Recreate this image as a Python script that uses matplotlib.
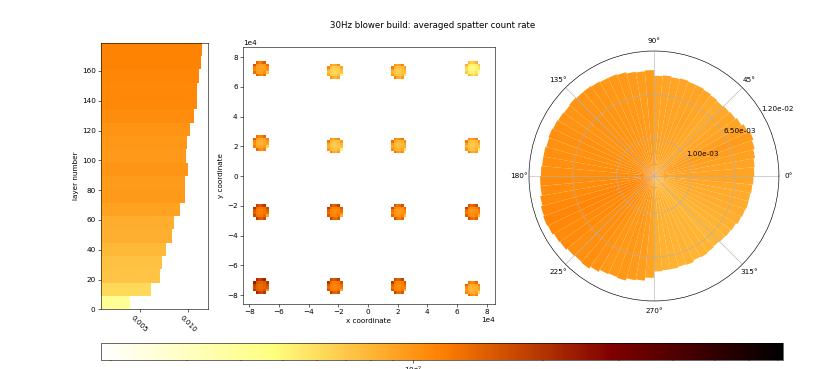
import numpy as np
import matplotlib
matplotlib.use("Agg")
import matplotlib.pyplot as plt
from matplotlib.colors import LogNorm
from matplotlib.cm import ScalarMappable

# valores
vmin, vmax = 1.89e-3, 7.18e-2
layer_edges = np.linspace(0, 179, 21)
layer_rate = [0.00405, 0.00622, 0.00709, 0.00730, 0.00774, 0.00831, 0.00852,
              0.00916, 0.00970, 0.00967, 0.01000, 0.00976, 0.00983, 0.01017,
              0.01061, 0.01088, 0.01095, 0.01112, 0.01135, 0.01142]

spot_x = [-7.2e4, -2.2e4, 2.2e4, 7.2e4,
          -7.2e4, -2.2e4, 2.2e4, 7.2e4,
          -7.2e4, -2.2e4, 2.2e4, 7.2e4,
          -7.2e4, -2.2e4, 2.2e4, 7.2e4]
spot_y = [7.35e4, 7.2e4, 7.2e4, 7.3e4,
          2.25e4, 2.2e4, 2.2e4, 2.2e4,
          -2.3e4, -2.3e4, -2.3e4, -2.4e4,
          -7.35e4, -7.25e4, -7.25e4, -7.45e4]
spot_rate = [0.0099, 0.0070, 0.0075, 0.0054,
             0.0092, 0.0075, 0.0083, 0.0077,
             0.0130, 0.0119, 0.0107, 0.0112,
             0.0150, 0.0125, 0.0119, 0.0089]
# textura de cada mancha (6x6 celdas)
spot_pattern = [[0.0, 1.5, 1.2, 1.1, 1.3, 0.0],
                [1.3, 1.0, 0.95, 0.95, 1.05, 0.7],
                [1.1, 0.95, 0.9, 0.9, 0.95, 1.0],
                [1.2, 0.95, 0.9, 0.9, 0.95, 1.1],
                [1.6, 1.05, 0.95, 0.95, 1.0, 1.3],
                [0.0, 1.4, 1.2, 1.3, 1.5, 0.0]]

theta_edges = np.linspace(0, 360, 73)
angle_rate = [0.0089, 0.0090, 0.0092, 0.0094, 0.0096, 0.0093, 0.0090, 0.0088, 0.0087,
              0.0086, 0.0087, 0.0088, 0.0089, 0.0089, 0.0090, 0.0089, 0.0090, 0.0089,
              0.0096, 0.0095, 0.0096, 0.0098, 0.0099, 0.0099, 0.0100, 0.0101, 0.0101,
              0.0102, 0.0101, 0.0102, 0.0103, 0.0104, 0.0103, 0.0104, 0.0104, 0.0105,
              0.0106, 0.0106, 0.0108, 0.0110, 0.0111, 0.0110, 0.0108, 0.0107, 0.0105,
              0.0104, 0.0105, 0.0102, 0.0099, 0.0098, 0.0099, 0.0096, 0.0095, 0.0091,
              0.0083, 0.0082, 0.0082, 0.0081, 0.0082, 0.0080, 0.0081, 0.0080, 0.0079,
              0.0080, 0.0081, 0.0082, 0.0084, 0.0085, 0.0086, 0.0086, 0.0087, 0.0088]
r_ticks = [0.001, 0.0065, 0.012]
r_low = -0.00367

cmap = plt.get_cmap("afmhot_r")
norm = LogNorm(vmin=vmin, vmax=vmax)

DPI = 52
fig = plt.figure(figsize=(830 / DPI, 369 / DPI), dpi=DPI)

# barras por capa
ax1 = fig.add_axes([0.1213, 0.1618, 0.1289, 0.7225])
ax1.barh(layer_edges[:-1], layer_rate, height=np.diff(layer_edges), align="edge",
         color=cmap(norm(layer_rate)))
ax1.set_xlim(0.001, 0.012)
ax1.set_ylim(0, 179)
ax1.set_xticks([0.005, 0.010])
ax1.set_xticklabels(["0.005", "0.010"], rotation=-45)
ax1.set_ylabel("layer number")

# mapa xy
ax2 = fig.add_axes([0.2924, 0.1762, 0.304, 0.6965])
cell = 1720.0
edges = np.arange(-86000, 86000 + cell, cell)
grid = np.zeros((len(edges) - 1, len(edges) - 1))
pat = np.array(spot_pattern)
for sx, sy, rate in zip(spot_x, spot_y, spot_rate):
    i = int((sx - edges[0]) // cell) - 3
    j = int((sy - edges[0]) // cell) - 3
    grid[j:j + 6, i:i + 6] = np.where(pat > 0, rate * pat, grid[j:j + 6, i:i + 6])
ax2.pcolormesh(edges, edges, np.ma.masked_equal(grid, 0), cmap=cmap, norm=norm)
ax2.set_xlim(-84500, 85600)
ax2.set_ylim(-86000, 86900)
ax2.set_xticks(np.arange(-8e4, 8.1e4, 2e4))
ax2.set_yticks(np.arange(-8e4, 8.1e4, 2e4))
ax2.ticklabel_format(style="sci", scilimits=(0, 0))
ax2.set_xlabel("x coordinate")
ax2.set_ylabel("y coordinate")

# polar
ax3 = fig.add_axes([0.6373, 0.1843, 0.3012, 0.6775], projection="polar")
th = np.deg2rad(theta_edges)
ax3.bar(th[:-1], np.array(angle_rate) - r_low, width=np.diff(th), bottom=r_low,
        align="edge", color=cmap(norm(angle_rate)))
ax3.set_ylim(r_low, 0.012)
ax3.set_yticks(r_ticks)
ax3.set_yticklabels(["%.2e" % t for t in r_ticks])
ax3.set_rlabel_position(31)

# barra de color
cax = fig.add_axes([0.1213, 0.0244, 0.822, 0.0453])
fig.colorbar(ScalarMappable(norm=norm, cmap=cmap), cax=cax, orientation="horizontal")

fig.text(0.521, 0.932, "30Hz blower build: averaged spatter count rate",
         ha="center", va="center", fontsize=12)

fig.savefig("out.png", dpi=DPI)
